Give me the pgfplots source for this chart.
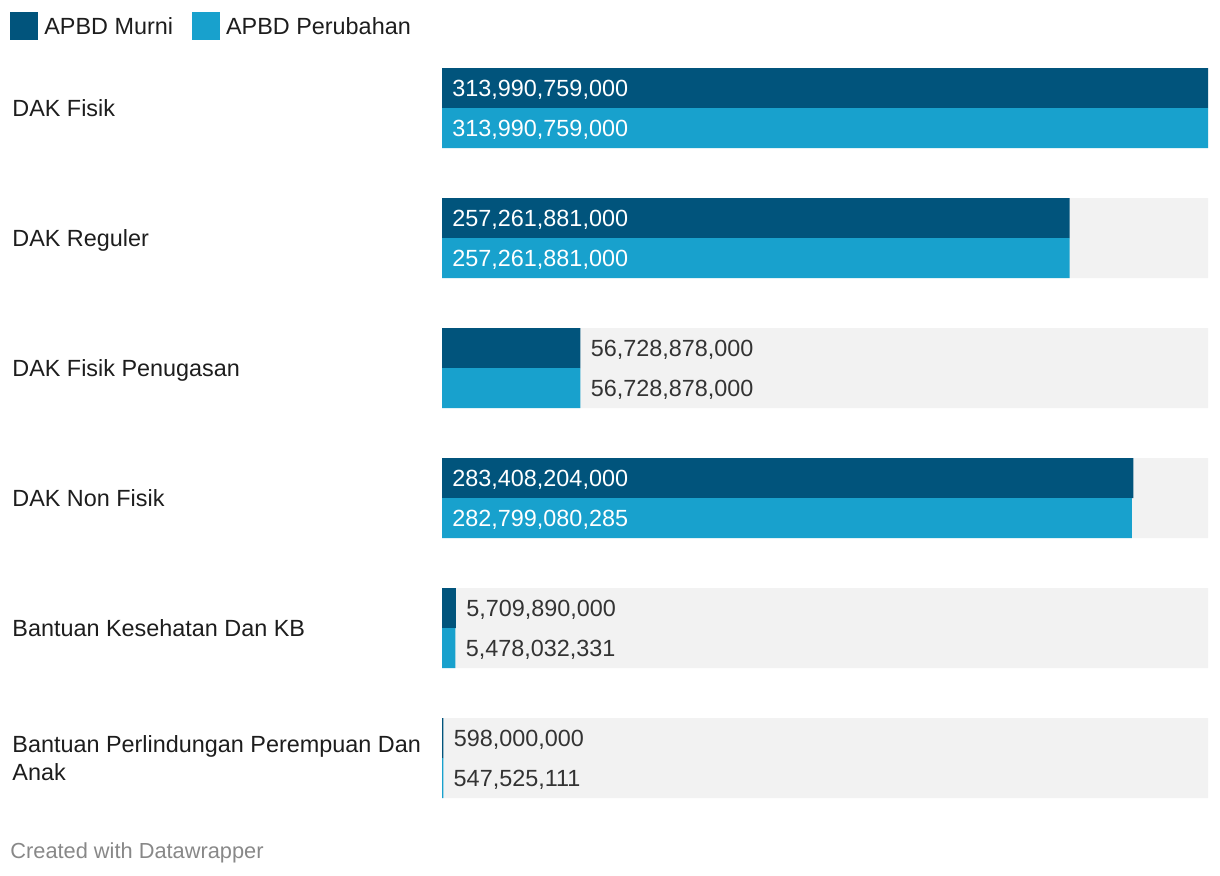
\documentclass[border=0pt]{standalone}
\usepackage{pgfplots}
\pgfplotsset{compat=1.18}
\usepackage{pgfplotstable}
\usepackage{fontspec}
\setmainfont{Liberation Sans}
\definecolor{darkblue}{HTML}{01547C}
\definecolor{lightblue}{HTML}{18A1CD}
\definecolor{bggray}{HTML}{F2F2F2}
\definecolor{labtext}{HTML}{1D1D1D}
\definecolor{valtext}{HTML}{333333}
\definecolor{foot}{HTML}{888888}

% bar values (x) at pixel-row centres (y)
\pgfplotstableread{
x y
313990759000 108
313990759000 238
313990759000 368
313990759000 498
313990759000 628
313990759000 758
}\bgdata
\pgfplotstableread{
x y
313990759000 88
257261881000 218
56728878000 348
283408204000 478
5709890000 608
598000000 738
}\murni
\pgfplotstableread{
x y
313990759000 128
257261881000 258
56728878000 388
282799080285 518
5478032331 648
547525111 778
}\perubahan
\pgfplotstableread{
x y label
0 88 313,990,759,000
0 128 313,990,759,000
0 218 257,261,881,000
0 258 257,261,881,000
0 478 283,408,204,000
0 518 282,799,080,285
}\inlabels
\pgfplotstableread{
x y label
56728878000 348 56,728,878,000
56728878000 388 56,728,878,000
5709890000 608 5,709,890,000
5478032331 648 5,478,032,331
598000000 738 598,000,000
547525111 778 547,525,111
}\outlabels

\begin{document}
\begin{tikzpicture}
\useasboundingbox (0,0) rectangle (610pt,-438pt);
\begin{axis}[
  at={(221pt,-34pt)}, anchor=north west,
  scale only axis, width=383pt, height=365pt,
  xmin=0, xmax=313990759000,
  ymin=68, ymax=798, y dir=reverse,
  clip=false,
  axis line style={draw=none},
  xtick=\empty,
  ytick={108,238,368,498,628,758},
  yticklabels={DAK Fisik,DAK Reguler,DAK Fisik Penugasan,DAK Non Fisik,Bantuan Kesehatan Dan KB,{Bantuan Perlindungan Perempuan Dan\\Anak}},
  major tick length=0pt,
  tick style={draw=none},
  yticklabel style={font=\fontsize{11.7}{14}\selectfont, text=labtext, anchor=west, xshift=-215pt, yshift=-1.25pt, align=left, inner sep=0pt, text depth=0.25em},
  legend columns=2,
  legend style={at={(axis description cs:-0.564,1.0575)}, anchor=west, draw=none, fill=none,
    inner sep=0pt, font=\fontsize{11.7}{13}\selectfont, text=labtext,
    nodes={inner sep=1.5pt},
    /tikz/every odd column/.append style={column sep=1.5pt},
    /tikz/every even column/.append style={column sep=8pt}},
  legend image code/.code={\fill[#1] (0pt,-6pt) rectangle (14pt,8pt);},
]
\addplot[xbar, bar shift=0pt, bar width=80, fill=bggray, draw=none, forget plot] table[x=x,y=y]{\bgdata};
\addplot[xbar, bar shift=0pt, bar width=40, fill=darkblue, draw=none] table[x=x,y=y]{\murni};
\addlegendentry{APBD Murni}
\addplot[xbar, bar shift=0pt, bar width=40, fill=lightblue, draw=none] table[x=x,y=y]{\perubahan};
\addlegendentry{APBD Perubahan}
\addplot[only marks, mark=none, forget plot, point meta=explicit symbolic,
  nodes near coords, nodes near coords style={anchor=base west, inner sep=0pt, xshift=5pt, yshift=-4.2pt, text=white, font=\fontsize{11.7}{13}\selectfont}]
  table[x=x,y=y,meta=label]{\inlabels};
\addplot[only marks, mark=none, forget plot, point meta=explicit symbolic,
  nodes near coords, nodes near coords style={anchor=base west, inner sep=0pt, xshift=5pt, yshift=-4.2pt, text=valtext, font=\fontsize{11.7}{13}\selectfont}]
  table[x=x,y=y,meta=label]{\outlabels};
\end{axis}
\node[anchor=base west, inner sep=0pt, font=\fontsize{10.9}{13}\selectfont, text=foot] at (5pt,-429pt) {Created with Datawrapper};
\end{tikzpicture}
\end{document}
